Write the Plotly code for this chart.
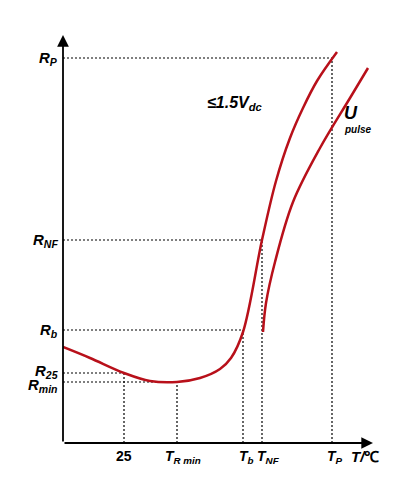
import plotly.graph_objects as go

# Schematic data (arbitrary units: T along x, lg R along y)
main_T = [0, 27, 61, 87, 114, 137, 157, 168, 180, 199, 213, 227, 240, 254, 274]
main_R = [96, 85, 70, 62, 61, 65, 74, 85, 111, 203, 262, 305, 335, 362, 391]
pulse_T = [200, 203, 212, 230, 257, 287, 305]
pulse_R = [111, 140, 181, 241, 295, 345, 375]

# reference levels
R_levels = [385, 203, 113, 70, 61]
R_labels = ["R<sub>P</sub>", "R<sub>NF</sub>", "R<sub>b</sub>", "R<sub>25</sub>", "R<sub>min</sub>"]
T_levels = [269, 199, 180, 61, 114]   # T paired with each R level
T_ticks = [61, 114, 180, 199, 269]
T_labels = ["25", "T<sub>R min</sub>", "T<sub>b</sub>", "T<sub>NF</sub>", "T<sub>P</sub>"]

RED = "#b8101a"
FONT = "Liberation Sans, Arial, sans-serif"

fig = go.Figure()

# dashed guide lines
for r, t in zip(R_levels, T_levels):
    fig.add_trace(go.Scatter(x=[0, t], y=[r, r], mode="lines",
                             line=dict(color="black", width=1.2, dash="2px,2px"),
                             hoverinfo="skip", showlegend=False))
    fig.add_trace(go.Scatter(x=[t, t], y=[0, r], mode="lines",
                             line=dict(color="black", width=1.2, dash="2px,2px"),
                             hoverinfo="skip", showlegend=False))

fig.add_trace(go.Scatter(x=main_T, y=main_R, mode="lines",
                         line=dict(color=RED, width=2.5, shape="spline", smoothing=1.0),
                         showlegend=False))
fig.add_trace(go.Scatter(x=pulse_T, y=pulse_R, mode="lines",
                         line=dict(color=RED, width=2.5, shape="spline", smoothing=1.0),
                         showlegend=False))

ann = []
# axes with arrows
ann.append(dict(x=0, y=408, ax=0, ay=0, xref="x", yref="y", axref="x", ayref="y",
                text="", showarrow=True, arrowhead=2, arrowsize=1.3, arrowwidth=1.8,
                arrowcolor="black"))
ann.append(dict(x=310, y=0, ax=0, ay=0, xref="x", yref="y", axref="x", ayref="y",
                text="", showarrow=True, arrowhead=2, arrowsize=1.3, arrowwidth=1.8,
                arrowcolor="black"))

for r, lab in zip(R_levels, R_labels):
    yshift = 0
    if lab.startswith("R<sub>25"):
        yshift = 2
    if lab.startswith("R<sub>min"):
        yshift = -3
    ann.append(dict(x=0, y=r, xref="x", yref="y", text="<b><i>%s</i></b>" % lab,
                    showarrow=False, xanchor="right", xshift=-3, yshift=yshift,
                    font=dict(family=FONT, size=15, color="black")))

for t, lab in zip(T_ticks, T_labels):
    ann.append(dict(x=t, y=0, xref="x", yref="y", text="<b><i>%s</i></b>" % lab if lab != "25" else "<b>25</b>",
                    showarrow=False, xanchor="center", yanchor="top", yshift=-3,
                    xshift=(6 if "min" in lab else (6 if "NF" in lab else 3 if lab != "25" else 0)),
                    font=dict(family=FONT, size=14, color="black")))

ann.append(dict(x=302, y=0, xref="x", yref="y", text="<b><i>T/</i>℃</b>", showarrow=False,
                xanchor="center", yanchor="top", yshift=-3,
                font=dict(family=FONT, size=15, color="black")))
ann.append(dict(x=-18, y=415, xref="x", yref="y", text="<b><i>Lg R</i></b>", showarrow=False,
                xanchor="center", yanchor="middle",
                font=dict(family=FONT, size=15, color="black")))
ann.append(dict(x=172, y=340, xref="x", yref="y", text="<b><i>≤1.5V<sub>dc</sub></i></b>",
                showarrow=False, xanchor="center", yanchor="middle",
                font=dict(family=FONT, size=16, color="black")))
ann.append(dict(x=288, y=330, xref="x", yref="y", text="<b><i>U</i></b>", showarrow=False,
                xanchor="center", yanchor="middle",
                font=dict(family=FONT, size=18, color="black")))
ann.append(dict(x=295, y=314, xref="x", yref="y", text="<b><i>pulse</i></b>", showarrow=False,
                xanchor="center", yanchor="middle",
                font=dict(family=FONT, size=10, color="black")))

fig.update_layout(
    width=405, height=487,
    margin=dict(l=55, r=33, t=22, b=52),
    paper_bgcolor="white", plot_bgcolor="white",
    xaxis=dict(range=[0, 317], visible=False, fixedrange=True),
    yaxis=dict(range=[0, 413], visible=False, fixedrange=True),
    annotations=ann,
    showlegend=False,
)

fig.write_html("out.html")
